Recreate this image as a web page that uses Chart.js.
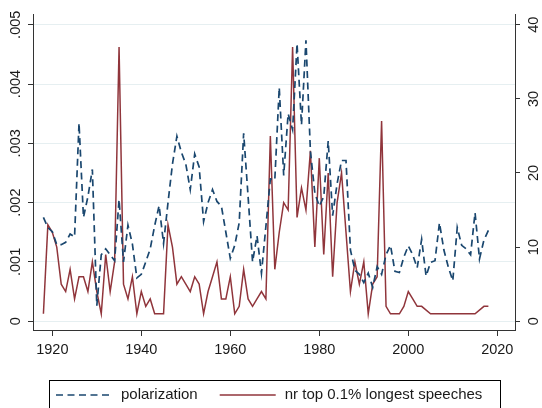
<!DOCTYPE html>
<html>
<head>
<meta charset="utf-8">
<script src="https://cdn.jsdelivr.net/npm/chart.js@4.4.1/dist/chart.umd.min.js"></script>
<style>
  html, body { margin: 0; padding: 0; background: #fff; }
  #chart { display: block; }
</style>
</head>
<body>
<canvas id="chart" width="542" height="408"></canvas>
<script>
// years 1918-2018
const years = [];
for (let y = 1918; y <= 2018; y++) years.push(y);

const polarization = [
  0.00175, 0.00158, 0.00151, 0.00129, 0.00129, 0.00133, 0.00147, 0.00142, 0.00334, 0.00175,
  0.00210, 0.00256, 0.00026, 0.00112, 0.00122, 0.00112, 0.00102, 0.00205, 0.00100, 0.00162,
  0.00130, 0.00073, 0.00079, 0.00100, 0.00122, 0.00161, 0.00195, 0.00131, 0.00200, 0.00265,
  0.00312, 0.00285, 0.00265, 0.00222, 0.00282, 0.00260, 0.00168, 0.00200, 0.00222, 0.00202,
  0.00194, 0.00150, 0.00106, 0.00128, 0.00166, 0.00317, 0.00210, 0.00100, 0.00144, 0.00081,
  0.00160, 0.00240, 0.00238, 0.00394, 0.00246, 0.00350, 0.00323, 0.00468, 0.00331, 0.00474,
  0.00287, 0.00216, 0.00194, 0.00210, 0.00304, 0.00178, 0.00232, 0.00271, 0.00271, 0.00120,
  0.00086, 0.00079, 0.00065, 0.00081, 0.00057, 0.00092, 0.00079, 0.00112, 0.00128, 0.00084,
  0.00082, 0.00108, 0.00127, 0.00112, 0.00090, 0.00138, 0.00076, 0.00099, 0.00102, 0.00166,
  0.00120, 0.00091, 0.00068, 0.00158, 0.00128, 0.00122, 0.00112, 0.00183, 0.00105, 0.00137,
  0.00153
];

const longSpeeches = [
  1, 13, 12, 10, 5, 4, 7, 3, 6, 6,
  4, 8, 4, 1, 9, 4, 8, 37, 5, 3,
  6, 1, 4, 2, 3, 1, 1, 1, 13, 10,
  5, 6, 5, 4, 6, 5, 1, 4, 6, 8,
  3, 3, 6, 1, 2, 7, 3, 2, 3, 4,
  3, 25, 7, 12, 16, 15, 37, 14, 18, 15,
  23, 10, 22, 9, 20, 6, 16, 20, 12, 4,
  8, 5, 8, 1, 5, 6, 27, 2, 1, 1,
  1, 2, 4, 3, 2, 2, null, 1, 1, 1,
  1, 1, 1, 1, 1, 1, 1, 1, null, 2,
  2
];

const seriesNames = ['polarization', 'nr top 0.1% longest speeches'];
const xTicks = [1920, 1940, 1960, 1980, 2000, 2020];

const navy = '#1a476f';
const maroon = '#90353b';
const ink = '#1a1a1a';
const font = "'Liberation Sans', Arial, sans-serif";

// Stata-style legend box under the plot
const boxLegend = {
  id: 'boxLegend',
  afterDraw(chart) {
    const ctx = chart.ctx;
    const left = 49.5, top = 380.5, right = 500.5, cy = 395;
    ctx.save();
    ctx.strokeStyle = '#000';
    ctx.lineWidth = 1;
    ctx.strokeRect(left, top, right - left, 40);
    ctx.font = '15px ' + font;
    ctx.textBaseline = 'middle';
    ctx.fillStyle = ink;
    let x = 56;
    chart.data.datasets.forEach(ds => {
      ctx.beginPath();
      ctx.setLineDash(ds.borderDash || []);
      ctx.strokeStyle = ds.borderColor;
      ctx.lineWidth = ds.borderWidth;
      ctx.moveTo(x, cy);
      ctx.lineTo(x + 56, cy);
      ctx.stroke();
      ctx.setLineDash([]);
      ctx.fillText(ds.label, x + 65, cy);
      x += 65 + ctx.measureText(ds.label).width + 22;
    });
    ctx.restore();
  }
};

new Chart(document.getElementById('chart'), {
  type: 'line',
  data: {
    datasets: [
      {
        label: seriesNames[0],
        data: years.map((y, i) => ({ x: y, y: polarization[i] })),
        yAxisID: 'y',
        borderColor: navy,
        borderWidth: 1.7,
        borderDash: [7, 4.5],
        pointRadius: 0,
        tension: 0
      },
      {
        label: seriesNames[1],
        data: years.map((y, i) => ({ x: y, y: longSpeeches[i] })),
        yAxisID: 'y1',
        borderColor: maroon,
        borderWidth: 1.5,
        pointRadius: 0,
        spanGaps: true,
        tension: 0
      }
    ]
  },
  options: {
    responsive: false,
    animation: false,
    devicePixelRatio: 1,
    layout: { padding: { top: 8, bottom: 48, left: 0, right: 0 } },
    plugins: {
      legend: { display: false },
      tooltip: { enabled: false }
    },
    scales: {
      x: {
        type: 'linear',
        min: 1915.66,
        max: 2023.98,
        afterFit: s => { s.height = 30; },
        afterBuildTicks: s => { s.ticks = xTicks.map(v => ({ value: v })); },
        border: { display: true, color: '#333', width: 1 },
        grid: { drawOnChartArea: false, tickLength: 6, tickColor: '#333' },
        ticks: {
          color: ink,
          padding: 5,
          maxRotation: 0,
          autoSkip: false,
          font: { family: font, size: 14.5 },
          callback: v => String(v)
        }
      },
      y: {
        position: 'left',
        min: -0.000149,
        max: 0.00517,
        afterFit: s => { s.width = 33; },
        border: { display: true, color: '#333', width: 1 },
        grid: { color: '#e6eff1', lineWidth: 1, tickLength: 5, tickColor: '#333' },
        ticks: {
          stepSize: 0.001,
          includeBounds: false,
          autoSkip: false,
          minRotation: 90,
          maxRotation: 90,
          crossAlign: 'center',
          padding: -2,
          color: ink,
          font: { family: font, size: 14.5 },
          callback: v => Math.abs(v) < 1e-9 ? '0' : v.toFixed(3).replace(/^0/, '')
        }
      },
      y1: {
        position: 'right',
        min: -1.19,
        max: 41.36,
        afterFit: s => { s.width = 27; },
        border: { display: true, color: '#333', width: 1 },
        grid: { drawOnChartArea: false, tickLength: 5, tickColor: '#333' },
        ticks: {
          stepSize: 10,
          includeBounds: false,
          autoSkip: false,
          minRotation: 90,
          maxRotation: 90,
          crossAlign: 'center',
          padding: 6,
          color: ink,
          font: { family: font, size: 14.5 },
          callback: v => String(v)
        }
      }
    }
  },
  plugins: [boxLegend]
});
</script>
</body>
</html>
